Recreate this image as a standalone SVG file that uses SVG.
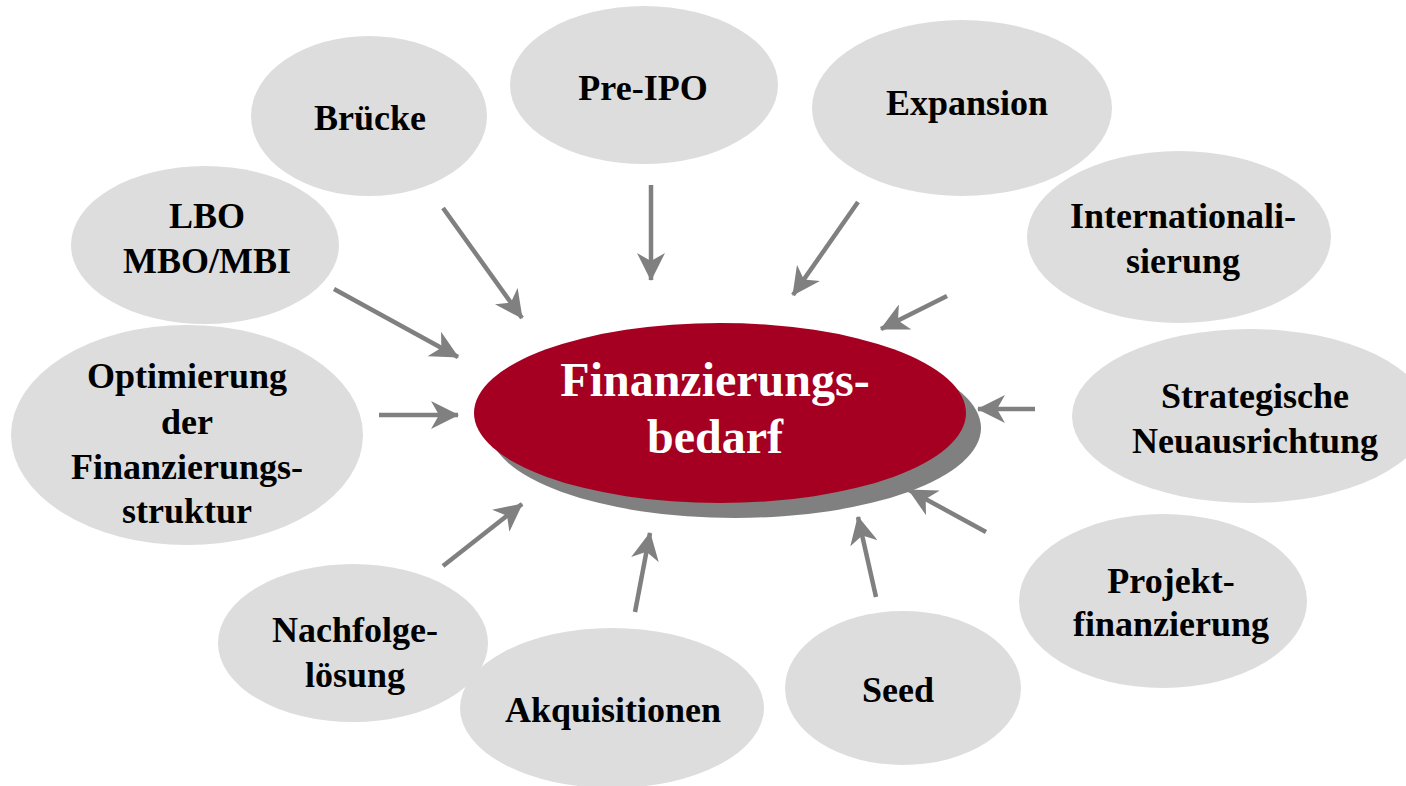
<svg xmlns="http://www.w3.org/2000/svg" width="1406" height="786" viewBox="0 0 1406 786">
<style>
.n{fill:#DDDDDD}
.t{font-family:"Liberation Serif","Times New Roman",serif;font-weight:bold;font-size:36px;fill:#000;text-anchor:middle}
.c{font-family:"Liberation Serif","Times New Roman",serif;font-weight:bold;font-size:48px;fill:#fff;text-anchor:middle}
.a{stroke:#808080;stroke-width:4.5;fill:none;marker-end:url(#ah)}
</style>
<defs>
<marker id="ah" markerUnits="userSpaceOnUse" markerWidth="28" markerHeight="28" viewBox="0 0 28 28" refX="27" refY="14" orient="auto">
<path d="M0,0 L28,14 L0,28 L8,14 Z" fill="#808080"/>
</marker>
</defs>
<rect width="1406" height="786" fill="#fff"/>
<g id="node-bruecke"><ellipse class="n" cx="369" cy="116" rx="118" ry="80"/><text class="t" x="370" y="130">Brücke</text></g>
<g id="node-preipo"><ellipse class="n" cx="644" cy="85" rx="134" ry="79"/><text class="t" x="643" y="100">Pre-IPO</text></g>
<g id="node-expansion"><ellipse class="n" cx="962" cy="108" rx="150" ry="88"/><text class="t" x="967" y="115">Expansion</text></g>
<g id="node-international"><ellipse class="n" cx="1179" cy="237" rx="152" ry="86"/><text class="t" x="1183" y="228">Internationali-</text><text class="t" x="1183" y="273">sierung</text></g>
<g id="node-strategisch"><ellipse class="n" cx="1250" cy="416" rx="178" ry="87"/><text class="t" x="1255" y="408">Strategische</text><text class="t" x="1255" y="453">Neuausrichtung</text></g>
<g id="node-projekt"><ellipse class="n" cx="1163" cy="601" rx="144" ry="87"/><text class="t" x="1171" y="593">Projekt-</text><text class="t" x="1171" y="636">finanzierung</text></g>
<g id="node-seed"><ellipse class="n" cx="903" cy="688" rx="118" ry="77"/><text class="t" x="898" y="702">Seed</text></g>
<g id="node-akquisitionen"><ellipse class="n" cx="612" cy="708" rx="152" ry="80"/><text class="t" x="613" y="722">Akquisitionen</text></g>
<g id="node-nachfolge"><ellipse class="n" cx="353" cy="643" rx="135" ry="79"/><text class="t" x="355" y="642">Nachfolge-</text><text class="t" x="355" y="687">lösung</text></g>
<g id="node-optimierung"><ellipse class="n" cx="187" cy="435" rx="176" ry="110"/><text class="t" x="187" y="388">Optimierung</text><text class="t" x="187" y="434">der</text><text class="t" x="187" y="479">Finanzierungs-</text><text class="t" x="187" y="523">struktur</text></g>
<g id="node-lbo"><ellipse class="n" cx="205" cy="245" rx="134" ry="79"/><text class="t" x="207" y="228">LBO</text><text class="t" x="207" y="273">MBO/MBI</text></g>
<g id="node-center"><ellipse cx="735" cy="428" rx="246" ry="90" fill="#808080"/><ellipse cx="720" cy="413" rx="246" ry="90" fill="#A50021"/><text class="c" x="715" y="396">Finanzierungs-</text><text class="c" x="715" y="453">bedarf</text></g>
<g id="connectors">
<line class="a" x1="443" y1="208" x2="522" y2="318"/>
<line class="a" x1="651" y1="185" x2="651" y2="280"/>
<line class="a" x1="858" y1="202" x2="793" y2="295"/>
<line class="a" x1="947" y1="296" x2="881" y2="329"/>
<line class="a" x1="1035" y1="409" x2="978" y2="409"/>
<line class="a" x1="986" y1="532" x2="909" y2="490"/>
<line class="a" x1="876" y1="597" x2="858" y2="517"/>
<line class="a" x1="635" y1="612" x2="650" y2="533"/>
<line class="a" x1="443" y1="566" x2="522" y2="504"/>
<line class="a" x1="379" y1="415" x2="458" y2="415"/>
<line class="a" x1="334" y1="289" x2="458" y2="357"/>
</g>
</svg>
